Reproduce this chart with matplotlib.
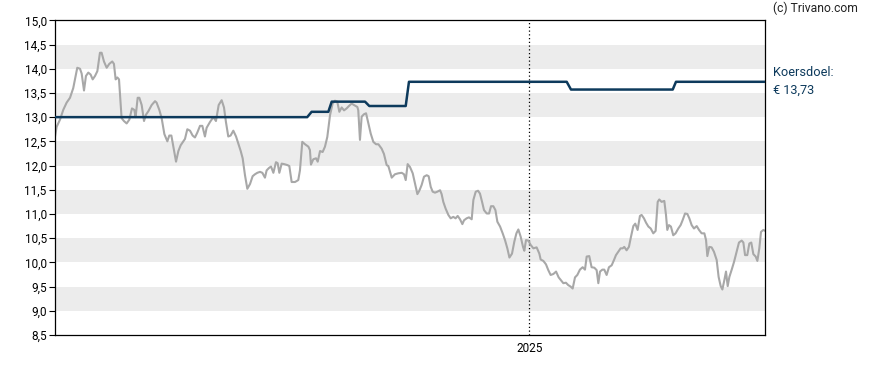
import pandas as pd
import matplotlib.pyplot as plt

plt.rcParams['font.family'] = ['Roboto', 'DejaVu Sans']

start = pd.Timestamp('2024-01-01')
end = pd.Timestamp('2025-07-02')

# koers: dagen sinds 2024-01-01 en slotkoers
price_days = [0, 1.3, 3.9, 6.4, 9.0, 11.6, 14.1, 17.2, 19.3, 20.6, 22.4, 23.9, 25.7, 27.5, 29.1, 30.9,
              32.7, 34.7, 36.0, 37.8, 39.9, 41.9, 44.2, 45.5, 46.8, 48.1, 49.4, 51.4, 53.2, 55.3, 57.4,
              59.4, 61.2, 62.2, 63.8, 65.1, 66.9, 68.7, 70.2, 72.0, 74.6, 77.2, 78.4, 80.5, 82.3, 84.4,
              86.7, 88.2, 89.8, 91.3, 93.4, 95.2, 97.0, 99.0, 100.3, 102.1, 104.2, 106.2, 108.0, 109.8,
              111.9, 113.7, 115.7, 117.0, 119.6, 122.2, 124.2, 126.3, 128.6, 130.4, 131.9, 133.7, 135.5,
              137.6, 139.7, 141.5, 143.3, 144.8, 146.6, 148.4, 150.5, 152.5, 154.3, 156.1, 158.2, 160.0,
              162.0, 163.3, 165.1, 166.7, 168.5, 170.5, 171.8, 173.1, 174.9, 176.7, 179.3, 180.8, 182.6,
              185.2, 187.7, 189.0, 190.8, 192.9, 195.5, 196.7, 197.5, 199.3, 201.4, 202.7, 204.5, 206.5,
              208.3, 210.1, 212.2, 214.2, 216.0, 217.8, 219.4, 221.2, 223.0, 225.0, 226.8, 228.9, 230.7,
              233.3, 234.0, 235.3, 236.6, 238.4, 240.0, 241.8, 243.6, 245.6, 247.7, 249.5, 252.0, 253.8,
              255.9, 257.2, 258.5, 259.8, 262.3, 264.9, 267.5, 269.3, 270.6, 272.1, 273.9, 276.0, 277.8,
              279.6, 281.1, 282.9, 284.7, 286.8, 288.3, 289.9, 291.4, 293.2, 295.0, 297.1, 298.3, 299.6,
              301.4, 303.5, 305.3, 307.3, 309.1, 310.7, 312.5, 314.3, 315.6, 317.6, 319.4, 321.5, 322.8,
              324.6, 326.4, 327.9, 329.5, 331.0, 333.1, 334.9, 336.4, 338.2, 339.8, 341.3, 343.4, 345.4,
              347.2, 349.0, 350.6, 352.6, 354.4, 356.0, 357.5, 359.3, 361.1, 362.1, 363.4, 365.2, 367.0,
              369.1, 371.6, 373.7, 374.7, 376.8, 378.8, 380.6, 382.4, 384.5, 386.6, 388.6, 392.2, 394.2,
              396.0, 397.8, 399.4, 401.2, 403.0, 405.0, 407.1, 408.9, 410.2, 412.2, 414.0, 416.1, 417.9,
              419.2, 420.5, 422.3, 423.8, 425.6, 427.4, 429.5, 431.3, 432.8, 434.6, 436.4, 438.0, 439.2,
              441.0, 442.8, 444.4, 446.2, 447.7, 449.5, 451.3, 452.6, 454.4, 456.0, 457.8, 459.6, 461.6,
              463.4, 465.0, 466.2, 468.0, 470.1, 471.4, 472.4, 473.7, 475.2, 477.0, 478.8, 480.9, 482.7,
              484.2, 486.1, 487.9, 489.4, 491.2, 493.0, 495.1, 496.9, 498.9, 501.0, 502.3, 503.3, 504.8,
              506.6, 508.4, 510.5, 512.0, 513.6, 514.9, 516.4, 517.7, 519.0, 520.3, 522.1, 523.9, 525.9,
              527.7, 529.8, 531.1, 532.4, 534.1, 535.7, 537.2, 538.8, 540.6, 541.9, 543.4, 544.7, 546.5,
              548.0]
price = [12.59, 12.8, 12.95, 13.15, 13.3, 13.4, 13.6, 14.02, 14.0, 13.9, 13.55, 13.85, 13.92, 13.88, 13.78,
         13.85, 13.95, 14.33, 14.33, 14.15, 14.02, 14.1, 14.15, 14.1, 13.78, 13.82, 13.78, 12.98, 12.92,
         12.87, 12.95, 13.18, 13.15, 13.0, 13.4, 13.4, 13.25, 12.92, 13.05, 13.12, 13.25, 13.33, 13.3,
         13.15, 12.98, 12.65, 12.5, 12.62, 12.62, 12.4, 12.08, 12.3, 12.42, 12.5, 12.55, 12.75, 12.72,
         12.62, 12.58, 12.68, 12.82, 12.82, 12.6, 12.78, 12.9, 13.0, 12.92, 13.25, 13.35, 13.2, 12.9,
         12.6, 12.62, 12.72, 12.6, 12.45, 12.3, 12.15, 11.8, 11.52, 11.62, 11.78, 11.82, 11.85, 11.87,
         11.85, 11.75, 11.9, 11.95, 11.98, 11.85, 12.07, 12.05, 11.85, 12.04, 12.03, 12.01, 11.99, 11.66,
         11.66, 11.7, 11.9, 12.49, 12.44, 12.39, 12.32, 12.02, 12.13, 12.15, 12.08, 12.3, 12.28, 12.39,
         12.59, 13.04, 13.28, 13.34, 13.32, 13.11, 13.2, 13.14, 13.18, 13.23, 13.28, 13.25, 13.21, 13.14,
         12.53, 13.01, 13.06, 13.08, 12.87, 12.66, 12.49, 12.44, 12.44, 12.35, 12.24, 12.01, 11.99, 11.87,
         11.75, 11.82, 11.84, 11.85, 11.82, 11.7, 12.03, 11.97, 11.84, 11.63, 11.41, 11.48, 11.6, 11.77,
         11.8, 11.78, 11.56, 11.46, 11.44, 11.46, 11.49, 11.41, 11.25, 11.11, 10.98, 10.91, 10.94, 10.91,
         10.96, 10.89, 10.79, 10.87, 10.91, 10.93, 10.89, 11.29, 11.46, 11.48, 11.42, 11.25, 11.08, 11.01,
         11.01, 11.16, 11.16, 11.08, 10.84, 10.74, 10.6, 10.46, 10.29, 10.1, 10.18, 10.43, 10.6, 10.68,
         10.53, 10.32, 10.24, 10.46, 10.45, 10.36, 10.29, 10.31, 10.18, 10.06, 10.03, 9.96, 9.84, 9.74,
         9.76, 9.81, 9.69, 9.57, 9.58, 9.53, 9.5, 9.46, 9.69, 9.74, 9.85, 9.9, 9.85, 10.12, 10.13, 9.9,
         9.89, 9.84, 9.57, 9.81, 9.85, 9.85, 9.74, 9.9, 9.94, 10.05, 10.15, 10.22, 10.29, 10.29, 10.32,
         10.25, 10.32, 10.53, 10.75, 10.8, 10.67, 10.96, 10.98, 10.91, 10.82, 10.74, 10.7, 10.6, 10.65,
         11.25, 11.3, 11.25, 11.27, 10.98, 10.67, 10.77, 10.74, 10.56, 10.6, 10.7, 10.77, 10.87, 11.01,
         11.0, 10.91, 10.77, 10.7, 10.75, 10.67, 10.6, 10.6, 10.46, 10.13, 10.32, 10.31, 10.22, 10.05,
         9.7, 9.51, 9.44, 9.63, 9.81, 9.51, 9.7, 9.85, 10.01, 10.22, 10.41, 10.45, 10.41, 10.15, 10.15,
         10.39, 10.41, 10.17, 10.12, 10.03, 10.29, 10.63, 10.67, 10.65]

# koersdoel (gemiddeld analistendoel)
target_days = [0, 194.6, 198.0, 210.9, 213.5, 239.2, 242.5, 270.6, 273.1, 394.8, 398.1, 476.6, 479.1, 548.0]
target = [13.0, 13.0, 13.11, 13.11, 13.32, 13.32, 13.23, 13.23, 13.73, 13.73, 13.57, 13.57, 13.73, 13.73]

y_ticks = [8.5, 9.0, 9.5, 10.0, 10.5, 11.0, 11.5, 12.0, 12.5, 13.0, 13.5, 14.0, 14.5, 15.0]
bands = [(9.0, 9.5), (10.0, 10.5), (11.0, 11.5), (12.0, 12.5), (13.0, 13.5), (14.0, 14.5)]

price_dates = start + pd.to_timedelta(price_days, unit='D')
target_dates = start + pd.to_timedelta(target_days, unit='D')

fig = plt.figure(figsize=(8.88, 3.70), dpi=100)
ax = fig.add_axes([0.0619, 0.0946, 0.7999, 0.8505])

for lo, hi in bands:
    ax.axhspan(lo, hi, color='#ececec', lw=0, zorder=0)

ax.plot(price_dates, price, color='#a8a8a8', lw=1.5, zorder=2)
ax.plot(target_dates, target, color='#0d3a5c', lw=1.8, zorder=3)
ax.axvline(pd.Timestamp('2025-01-01'), color='black', lw=0.9, ls=(0, (1, 2)), zorder=1)

ax.set_xlim(start, end)
ax.set_ylim(8.5, 15.0)
ax.set_yticks(y_ticks)
ax.set_yticklabels([f'{t:.1f}'.replace('.', ',') for t in y_ticks])
ax.set_xticks([pd.Timestamp('2025-01-01')])
ax.set_xticklabels(['2025'])
ax.tick_params(axis='y', length=4, width=0.8, pad=2, labelsize=8.5, colors='black')
ax.tick_params(axis='x', length=0, pad=5, labelsize=8.5)
for s in ax.spines.values():
    s.set_linewidth(0.9)
    s.set_color('black')

fig.text(0.870, 0.978, '(c) Trivano.com', fontsize=8.7, va='center', ha='left', color='#222222')
fig.text(0.871, 0.805, 'Koersdoel:', fontsize=9.2, va='center', ha='left', color='#0d3a5c')
fig.text(0.871, 0.757, '€ 13,73', fontsize=9.2, va='center', ha='left', color='#0d3a5c')

fig.savefig('out.png', dpi=100)
